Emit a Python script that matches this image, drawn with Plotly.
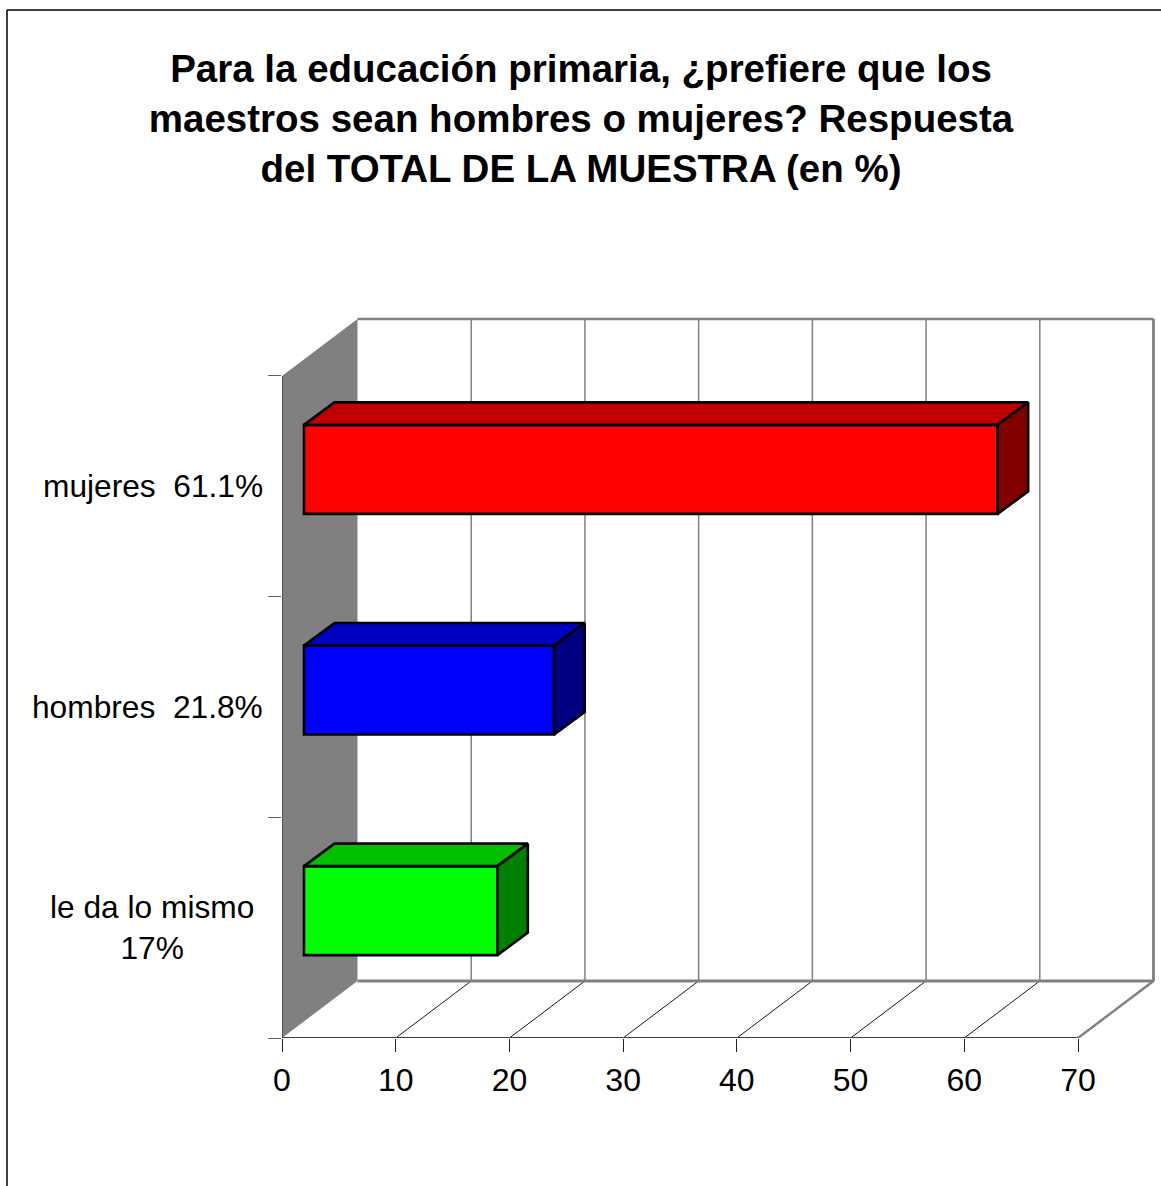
import plotly.graph_objects as go

# ---- data ----
categories = ["le da lo mismo<br>17%", "hombres\u00a0\u00a021.8%", "mujeres\u00a0\u00a061.1%"]
values = [17, 22, 61]
front_colors = ["#00FF00", "#0000FF", "#FF0000"]
top_colors = ["#00C000", "#0000C0", "#C00000"]
side_colors = ["#008000", "#000080", "#800000"]
x_ticks = [0, 10, 20, 30, 40, 50, 60, 70]
title_text = ("Para la educación primaria, ¿prefiere que los<br>"
              "maestros sean hombres o mujeres? Respuesta<br>"
              "del TOTAL DE LA MUESTRA (en %)")

# ---- page geometry (pixels) ----
W, H = 1161, 1186
X0, Y0 = 282, 1038          # origin of the front plane
PX_PER_X = 796 / 70
PX_PER_BAND = 220.67
RIGHT, TOP = 1160, 300

# ---- 3D look, in axis units ----
DX, DY = 75.5 / PX_PER_X, 57 / PX_PER_BAND        # wall depth
BAR_X, BAR_Y = 22 / PX_PER_X, 17 / PX_PER_BAND    # bar offset from the front plane
BAR_DX, BAR_DY = 30.5 / PX_PER_X, 22.5 / PX_PER_BAND
BAR_H = 89 / PX_PER_BAND
N = len(categories)
XMAX = x_ticks[-1]

FONT = "Liberation Sans, Arial, sans-serif"
GREY = "#808080"

fig = go.Figure()

shapes = []
def seg(x0, y0, x1, y1, color=GREY, width=1.0):
    shapes.append(dict(type="line", xref="x", yref="y", x0=x0, y0=y0, x1=x1, y1=y1,
                       layer="below", line=dict(color=color, width=width)))

# side wall
shapes.append(dict(type="path", xref="x", yref="y", layer="below", fillcolor=GREY,
                   line=dict(width=0),
                   path=f"M0,0 L{DX},{DY} L{DX},{N+DY} L0,{N} Z"))
# back wall + floor grid
for v in x_ticks[1:-1]:
    seg(v + DX, DY, v + DX, N + DY, GREY, 1.5)
    seg(v, 0, v + DX, DY, "#000000", 0.9)
seg(DX, N + DY, XMAX + DX, N + DY, GREY, 2.5)
seg(DX, DY, XMAX + DX, DY, GREY, 3)
seg(XMAX + DX, DY, XMAX + DX, N + DY, GREY, 2.8)
seg(XMAX, 0, XMAX + DX, DY, GREY, 2.4)

# outer frame (left and top only reach the page edge)
plot_w = RIGHT - X0
plot_h = Y0 - TOP
def paper_x(p): return (p - X0) / plot_w
def paper_y(p): return (Y0 - p) / plot_h
for a, b, c, d in [(7, 10, 7, H), (7, 10, W, 10)]:
    shapes.append(dict(type="line", xref="paper", yref="paper",
                       x0=paper_x(a), y0=paper_y(b), x1=paper_x(c), y1=paper_y(d),
                       line=dict(color="#000000", width=1.5), layer="above"))

# bars: front face from a real bar trace, other faces from polygons
centers = [i + 0.5 + BAR_Y for i in range(N)]
for i, (cat, val) in enumerate(zip(categories, values)):
    fig.add_trace(go.Bar(
        orientation="h", x=[val], y=[centers[i]], base=[BAR_X], width=[BAR_H],
        marker=dict(color=front_colors[i], line=dict(color="#000000", width=2.6)),
        name=cat, showlegend=False))
for i, val in enumerate(values):
    xl, xr = BAR_X, BAR_X + val
    yb, yt = centers[i] - BAR_H / 2, centers[i] + BAR_H / 2
    fig.add_trace(go.Scatter(
        x=[xl, xl + BAR_DX, xr + BAR_DX, xr, xl],
        y=[yt, yt + BAR_DY, yt + BAR_DY, yt, yt],
        mode="lines", fill="toself", fillcolor=top_colors[i],
        line=dict(color="#000000", width=2.6), showlegend=False, hoverinfo="skip"))
    fig.add_trace(go.Scatter(
        x=[xr, xr + BAR_DX, xr + BAR_DX, xr, xr],
        y=[yt, yt + BAR_DY, yb + BAR_DY, yb, yt],
        mode="lines", fill="toself", fillcolor=side_colors[i],
        line=dict(color="#000000", width=2.6), showlegend=False, hoverinfo="skip"))

# front axis lines
fig.add_trace(go.Scatter(x=[0, XMAX], y=[0, 0], mode="lines", cliponaxis=False,
                         line=dict(color="#404040", width=1.8),
                         showlegend=False, hoverinfo="skip"))
fig.add_trace(go.Scatter(x=[0, 0], y=[0, N], mode="lines", cliponaxis=False,
                         line=dict(color="#202020", width=1),
                         showlegend=False, hoverinfo="skip"))

# category labels
annotations = []
for i, cat in enumerate(categories):
    right = 256 if "<br>" in cat else 265
    annotations.append(dict(
        x=paper_x(right), y=(i + 0.5) * PX_PER_BAND / plot_h, xref="paper", yref="paper",
        text=cat, showarrow=False, xanchor="right", yanchor="middle", align="center",
        font=dict(family=FONT, size=31.7, color="#000000")))

fig.update_layout(
    width=W, height=H, autosize=False,
    margin=dict(l=X0, r=W - RIGHT, t=TOP, b=H - Y0, pad=0),
    paper_bgcolor="#FFFFFF", plot_bgcolor="#FFFFFF",
    showlegend=False, barmode="overlay",
    title=dict(text=title_text, x=581 / W, xanchor="center", y=1 - 82 / H, yanchor="top",
               font=dict(family=FONT, size=38.5, color="#000000", weight="bold")),
    xaxis=dict(range=[0, plot_w / PX_PER_X], tickvals=x_ticks, ticks="outside", ticklen=13,
               tickcolor="#202020", tickwidth=1, showgrid=False, zeroline=False, showline=False,
               ticklabelstandoff=1,
               tickfont=dict(family=FONT, size=32, color="#000000")),
    yaxis=dict(range=[0, plot_h / PX_PER_BAND], tickvals=list(range(N + 1)),
               ticktext=[""] * (N + 1), ticks="outside", ticklen=13,
               tickcolor="#606060", tickwidth=1, showgrid=False, zeroline=False, showline=False),
    shapes=shapes, annotations=annotations,
)

fig.write_html("out.html", post_script="document.body.style.margin='0';",
               config={"displayModeBar": False})
